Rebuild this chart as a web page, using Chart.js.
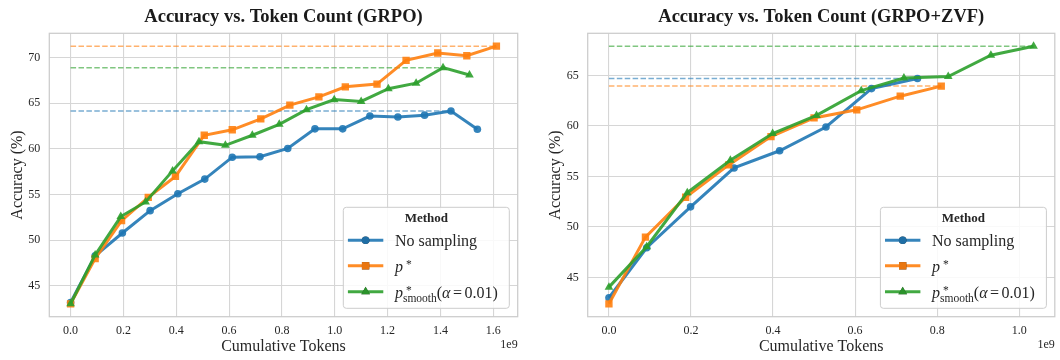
<!DOCTYPE html>
<html>
<head>
<meta charset="utf-8">
<script src="https://cdn.jsdelivr.net/npm/chart.js@4.4.1/dist/chart.umd.min.js"></script>
<style>
  html, body { margin: 0; padding: 0; background: #fff; }
  #wrap { position: relative; width: 1060px; height: 360px; }
  canvas { position: absolute; top: 0; }
</style>
</head>
<body>
<div id="wrap">
  <canvas id="grpo" width="530" height="360" style="left:0"></canvas>
  <canvas id="zvf" width="530" height="360" style="left:530px"></canvas>
</div>
<script>
// tokens are in units of 1e9
const grpoNoneX = [0, 0.093, 0.196, 0.301, 0.406, 0.508, 0.612, 0.717, 0.822, 0.925, 1.03, 1.133, 1.239, 1.34, 1.44, 1.54];
const grpoNoneY = [43.2, 48.3, 50.8, 53.25, 55.1, 56.7, 59.1, 59.15, 60.05, 62.2, 62.2, 63.6, 63.5, 63.7, 64.15, 62.15];
const grpoPX = [0, 0.093, 0.193, 0.294, 0.397, 0.506, 0.612, 0.72, 0.83, 0.94, 1.04, 1.16, 1.27, 1.39, 1.50, 1.612];
const grpoPY = [43.05, 48.0, 52.15, 54.7, 57.0, 61.5, 62.1, 63.3, 64.8, 65.7, 66.8, 67.1, 69.7, 70.5, 70.2, 71.25];
const grpoSmoothX = [0, 0.093, 0.19, 0.284, 0.386, 0.486, 0.586, 0.688, 0.79, 0.893, 0.998, 1.1, 1.203, 1.308, 1.41, 1.51];
const grpoSmoothY = [43.05, 48.4, 52.6, 54.2, 57.6, 60.8, 60.4, 61.5, 62.7, 64.3, 65.4, 65.2, 66.6, 67.2, 68.9, 68.1];

const zvfNoneX = [0, 0.092, 0.199, 0.305, 0.416, 0.529, 0.64, 0.752];
const zvfNoneY = [43.0, 47.95, 52.0, 55.85, 57.55, 59.9, 63.7, 64.7];
const zvfPX = [0, 0.089, 0.187, 0.292, 0.395, 0.5, 0.604, 0.71, 0.81];
const zvfPY = [42.4, 49.0, 52.95, 56.15, 58.95, 60.8, 61.6, 62.95, 63.95];
const zvfSmoothX = [0, 0.092, 0.191, 0.296, 0.399, 0.506, 0.615, 0.719, 0.827, 0.931, 1.035];
const zvfSmoothY = [44.05, 48.05, 53.4, 56.6, 59.25, 61.05, 63.5, 64.75, 64.9, 67.0, 67.9];

const grpoXTicks = [0, 0.2, 0.4, 0.6, 0.8, 1.0, 1.2, 1.4, 1.6];
const grpoYTicks = [45, 50, 55, 60, 65, 70];
const zvfXTicks = [0, 0.2, 0.4, 0.6, 0.8, 1.0];
const zvfYTicks = [45, 50, 55, 60, 65];

const methods = ['No sampling', 'p*', 'p*smooth(α=0.01)'];

const FONT = '"Liberation Serif", "Times New Roman", serif';
const INK = '#262626';
const colors = [[31, 119, 180], [255, 127, 14], [44, 160, 44]];
const markers = ['circle', 'rect', 'triangle'];
const markerSize = [3.8, 5.2, 5];

const rgba = (c, a) => `rgba(${c[0]}, ${c[1]}, ${c[2]}, ${a})`;
const pts = (xs, ys) => xs.map((x, i) => ({x: x, y: ys[i]}));

function bestLine(xs, ys) {
  const i = ys.indexOf(Math.max(...ys));
  return [{x: 0, y: ys[i]}, {x: xs[i], y: ys[i]}];
}

function drawLabel(ctx, idx, x, y) {
  const reg = '16px ' + FONT, it = 'italic 16px ' + FONT, small = '11.5px ' + FONT;
  ctx.textAlign = 'left';
  ctx.textBaseline = 'alphabetic';
  if (idx === 0) { ctx.font = reg; ctx.fillText(methods[0], x, y); return; }
  ctx.font = it;
  ctx.fillText('p', x, y);
  const w = ctx.measureText('p').width;
  ctx.font = small;
  ctx.fillText('*', x + w + 3, y - 4);
  if (idx === 1) return;
  ctx.fillText('smooth', x + w, y + 4.5);
  let xx = x + w + ctx.measureText('smooth').width;
  ctx.font = reg; ctx.fillText('(', xx, y); xx += ctx.measureText('(').width;
  ctx.font = it; ctx.fillText('α', xx, y); xx += ctx.measureText('α').width + 2.5;
  ctx.font = reg; ctx.fillText('=', xx, y); xx += ctx.measureText('=').width + 2.5;
  ctx.fillText('0.01)', xx, y);
}

const extras = {
  id: 'extras',
  beforeDatasetsDraw(chart) {
    const {ctx, chartArea: a} = chart;
    ctx.save();
    ctx.strokeStyle = '#cccccc';
    ctx.lineWidth = 1.25;
    ctx.strokeRect(a.left, a.top, a.right - a.left, a.bottom - a.top);
    ctx.restore();
  },
  afterDraw(chart) {
    const {ctx, chartArea: a} = chart;
    ctx.save();
    // offset text of the x axis
    ctx.fillStyle = INK;
    ctx.font = '12px ' + FONT;
    ctx.textAlign = 'right';
    ctx.textBaseline = 'middle';
    ctx.fillText('1e9', a.right, 345);

    // legend
    const w = 166, h = 101;
    const bx = a.right - 8.4 - w, by = a.bottom - 8.4 - h;
    ctx.beginPath();
    ctx.roundRect(bx, by, w, h, 3);
    ctx.fillStyle = 'rgba(255,255,255,0.85)';
    ctx.fill();
    ctx.strokeStyle = '#cccccc';
    ctx.lineWidth = 1;
    ctx.stroke();

    ctx.fillStyle = INK;
    ctx.font = 'bold 13px ' + FONT;
    ctx.textAlign = 'center';
    ctx.textBaseline = 'middle';
    ctx.fillText('Method', bx + w / 2, by + 11.5);

    const rows = [33, 58.5, 84.5];
    for (let i = 0; i < 3; i++) {
      const ds = chart.data.datasets[i];
      const y = by + rows[i];
      ctx.strokeStyle = ds.borderColor;
      ctx.lineWidth = ds.borderWidth;
      ctx.beginPath();
      ctx.moveTo(bx + 4.6, y);
      ctx.lineTo(bx + 40, y);
      ctx.stroke();
      Chart.helpers.drawPoint(ctx, {
        pointStyle: ds.pointStyle, radius: ds.pointRadius, borderWidth: 0, rotation: 0
      }, bx + 22.3, y);
      ctx.fillStyle = ds.pointBackgroundColor;
      ctx.fill();
      ctx.fillStyle = INK;
      drawLabel(ctx, i, bx + 51.6, y + 6);
    }
    ctx.restore();
  }
};

function makeChart(id, title, series, xTicks, yTicks, box) {
  const allX = series.flatMap(s => s[0]);
  const allY = series.flatMap(s => s[1]);
  const xMax = Math.max(...allX), xMin = Math.min(...allX);
  const yMax = Math.max(...allY), yMin = Math.min(...allY);
  const xr = xMax - xMin, yr = yMax - yMin;

  const datasets = series.map((s, i) => ({
    label: methods[i],
    data: pts(s[0], s[1]),
    borderColor: rgba(colors[i], 0.9),
    backgroundColor: rgba(colors[i], 0.9),
    pointBackgroundColor: rgba(colors[i], 0.9),
    borderWidth: 3,
    pointStyle: markers[i],
    pointRadius: markerSize[i],
    pointBorderWidth: 0,
    tension: 0,
    order: 3 - i
  }));
  series.forEach((s, i) => {
    datasets.push({
      label: methods[i] + ' best',
      data: bestLine(s[0], s[1]),
      borderColor: rgba(colors[i], 0.6),
      borderWidth: 1.5,
      borderDash: [5.5, 2.4],
      pointRadius: 0,
      order: 10
    });
  });

  return new Chart(document.getElementById(id), {
    type: 'line',
    data: {datasets: datasets},
    plugins: [extras],
    options: {
      responsive: false,
      animation: false,
      devicePixelRatio: 1,
      layout: {padding: {left: 0, right: box.right, top: 0, bottom: 0}},
      plugins: {
        legend: {display: false},
        tooltip: {enabled: false},
        title: {
          display: true,
          text: title,
          fullSize: false,
          color: '#1a1a1a',
          font: {family: FONT, size: 18.5, weight: 'bold', lineHeight: 1.2},
          padding: {top: 6.5, bottom: 4.6}
        }
      },
      scales: {
        x: {
          type: 'linear',
          min: xMin - 0.05 * xr,
          max: xMax + 0.05 * xr,
          afterFit: s => { s.height = 43.3; },
          afterBuildTicks: s => { s.ticks = xTicks.map(v => ({value: v})); },
          grid: {color: '#d6d6d6', lineWidth: 1.1, drawTicks: false},
          border: {display: false},
          ticks: {
            color: INK, padding: 7,
            font: {family: FONT, size: 12},
            callback: v => v.toFixed(1)
          },
          title: {
            display: true, text: 'Cumulative Tokens', color: INK,
            font: {family: FONT, size: 16, lineHeight: 1.2},
            padding: {top: 0, bottom: 3.4}
          }
        },
        y: {
          min: yMin - 0.05 * yr,
          max: yMax + 0.05 * yr,
          afterFit: s => { s.width = box.left; },
          afterBuildTicks: s => { s.ticks = yTicks.map(v => ({value: v})); },
          grid: {color: '#d6d6d6', lineWidth: 1.1, drawTicks: false},
          border: {display: false},
          ticks: {
            color: INK, padding: 9,
            font: {family: FONT, size: 12},
            callback: v => String(v)
          },
          title: {
            display: true, text: 'Accuracy (%)', color: INK,
            font: {family: FONT, size: 16, lineHeight: 1.2},
            padding: {top: box.ytitle, bottom: 0}
          }
        }
      }
    }
  });
}

makeChart('grpo', 'Accuracy vs. Token Count (GRPO)',
  [[grpoNoneX, grpoNoneY], [grpoPX, grpoPY], [grpoSmoothX, grpoSmoothY]],
  grpoXTicks, grpoYTicks, {left: 49.3, right: 12.3, ytitle: 8});

makeChart('zvf', 'Accuracy vs. Token Count (GRPO+ZVF)',
  [[zvfNoneX, zvfNoneY], [zvfPX, zvfPY], [zvfSmoothX, zvfSmoothY]],
  zvfXTicks, zvfYTicks, {left: 57.7, right: 4.7, ytitle: 15.8});
</script>
</body>
</html>
